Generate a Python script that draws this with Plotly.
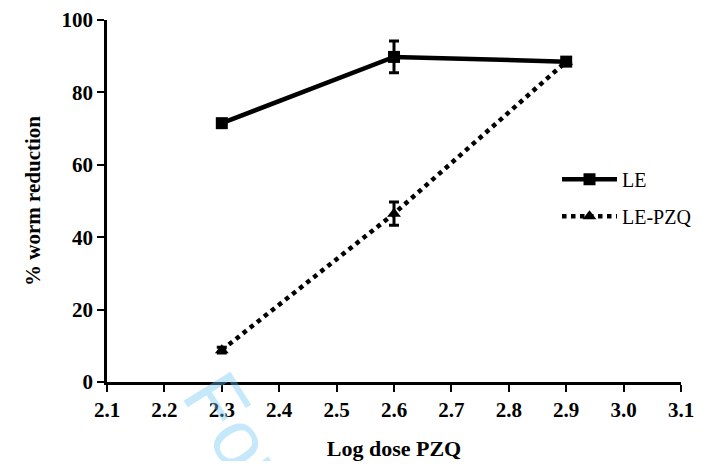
import plotly.graph_objects as go

log_dose = [2.3, 2.6, 2.9]
le_values = [71.5, 89.8, 88.5]
le_err = [0.8, 4.4, 0.8]
lepzq_values = [8.8, 46.5, 88.5]
lepzq_err = [0.8, 3.2, 0.8]
x_ticks = [2.1, 2.2, 2.3, 2.4, 2.5, 2.6, 2.7, 2.8, 2.9, 3.0, 3.1]
x_tick_labels = ["2.1", "2.2", "2.3", "2.4", "2.5", "2.6", "2.7", "2.8", "2.9", "3.0", "3.1"]
y_ticks = [0, 20, 40, 60, 80, 100]
y_tick_labels = ["0", "20", "40", "60", "80", "100"]

serif = "Liberation Serif, Times New Roman, serif"

fig = go.Figure()
fig.add_trace(go.Scatter(
    x=log_dose, y=le_values, name="LE", mode="lines+markers", legendgroup="a",
    line=dict(color="black", width=4.5),
    marker=dict(symbol="square", size=12, color="black"),
    error_y=dict(type="data", array=le_err, color="black", thickness=3, width=5),
))
fig.add_trace(go.Scatter(
    x=log_dose, y=lepzq_values, name="LE-PZQ", mode="lines+markers", legendgroup="b",
    line=dict(color="black", width=4.5, dash="dot"),
    marker=dict(symbol="triangle-up", size=12, color="black"),
    error_y=dict(type="data", array=lepzq_err, color="black", thickness=3, width=5),
))

fig.add_annotation(
    text="For Peer Review", xref="paper", yref="paper", x=0.443, y=-0.696,
    xanchor="center", yanchor="middle", showarrow=False, textangle=58,
    font=dict(family="Liberation Sans, Arial, sans-serif", size=80, color="rgba(110,200,245,0.4)"),
)
fig.add_annotation(
    text="<b>% worm reduction</b>", xref="paper", yref="paper", x=-0.129, y=0.5,
    xanchor="center", yanchor="middle", showarrow=False, textangle=-90,
    font=dict(family=serif, size=21, color="black"),
)

fig.update_layout(
    width=691, height=453,
    margin=dict(l=99, r=18, t=12, b=79, autoexpand=False),
    paper_bgcolor="white", plot_bgcolor="white",
    showlegend=True,
    legend=dict(x=0.784, y=0.509, xanchor="left", yanchor="middle",
                font=dict(family=serif, size=20, color="black"),
                bgcolor="rgba(0,0,0,0)", itemwidth=55, tracegroupgap=8),
    xaxis=dict(range=[2.1, 3.1], tickvals=x_ticks, ticktext=["<b>%s</b>" % t for t in x_tick_labels],
               automargin=False,
               showgrid=False, zeroline=False, showline=True, linecolor="black", linewidth=2.5,
               ticks="outside", ticklen=7, tickwidth=2, tickcolor="black",
               tickfont=dict(family=serif, size=21, color="black"),
               title=dict(text="<b>Log dose PZQ</b>", font=dict(family=serif, size=22, color="black"), standoff=23)),
    yaxis=dict(range=[0, 100], tickvals=y_ticks, ticktext=["<b>%s</b>" % t for t in y_tick_labels],
               automargin=False,
               showgrid=False, zeroline=False, showline=True, linecolor="black", linewidth=2.5,
               ticks="outside", ticklen=7, tickwidth=2, tickcolor="black",
               tickfont=dict(family=serif, size=21, color="black")),
)

fig.write_html("out.html")
